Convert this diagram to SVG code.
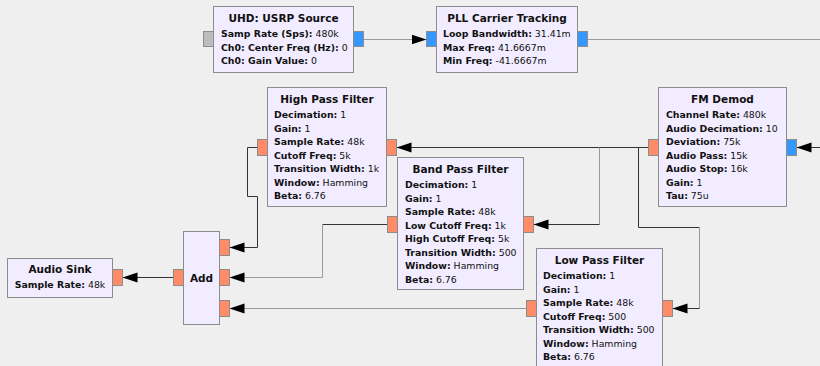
<svg xmlns="http://www.w3.org/2000/svg" width="820" height="366" viewBox="0 0 820 366">
<style>
.blk{fill:#f1ecff;stroke:#8c8c8c;stroke-width:1}
.pf{fill:#ff8c69;stroke:#8c8c8c;stroke-width:1}
.pc{fill:#3399ff;stroke:#8c8c8c;stroke-width:1}
.pm{fill:#bdbdbd;stroke:#8c8c8c;stroke-width:1}
text{font-family:"DejaVu Sans","Liberation Sans",sans-serif;fill:#111}
.t{font-size:10.5px;font-weight:bold;text-anchor:middle}
.p{font-size:9.35px}
.k{font-weight:bold}
.c{text-anchor:middle}
.dk{fill:none;stroke:#333;stroke-width:1}
.lt{fill:none;stroke:#9a9a9a;stroke-width:1}
</style>
<defs>
<marker id="arr" markerUnits="userSpaceOnUse" markerWidth="16" markerHeight="11" refX="15" refY="5.5" orient="auto"><path d="M0,0.5 L15,5.5 L0,10.5 z" fill="#000"/></marker>
</defs>
<rect width="820" height="366" fill="#efefef"/>

<g id="connectors">
<g id="c-usrp-pll"><path class="lt" d="M363.5,39.5 H426.5" marker-end="url(#arr)"/></g>
<g id="c-pll-fm"><path class="lt" d="M587.5,39.5 H820"/><path class="dk" d="M820,147.5 H796.5" marker-end="url(#arr)"/></g>
<g id="c-fm-hpf"><path class="dk" d="M648.5,147.5 H396.5" marker-end="url(#arr)"/></g>
<g id="c-fm-bpf"><path class="lt" d="M599.5,147.5 V224.5"/><path class="dk" d="M599.5,224.5 H533.5" marker-end="url(#arr)"/></g>
<g id="c-fm-lpf"><path class="dk" d="M638.5,147.5 V227.5 H699.5"/><path class="lt" d="M699.5,227.5 V308.5"/><path class="dk" d="M699.5,308.5 H672.5" marker-end="url(#arr)"/></g>
<g id="c-hpf-add"><path class="dk" d="M257.5,147.5 H247.5 V196.5 H257.5 V247.5 H229.5" marker-end="url(#arr)"/></g>
<g id="c-bpf-add"><path class="dk" d="M387.5,224.5 H322.5"/><path class="lt" d="M322.5,224.5 V277.5 H229.5" marker-end="url(#arr)"/></g>
<g id="c-lpf-add"><path class="lt" d="M526.5,308.5 H229.5" marker-end="url(#arr)"/></g>
<g id="c-add-sink"><path class="dk" d="M173.5,277.5 H122.5" marker-end="url(#arr)"/></g>
</g>

<g id="usrp_source">
<rect class="blk" x="213.5" y="6.5" width="140" height="66"/>
<rect class="pm" x="203.5" y="31.5" width="10" height="15"/>
<rect class="pc" x="353.5" y="31.5" width="10" height="15"/>
<text class="t" x="283.5" y="22">UHD: USRP Source</text>
<text class="p" x="221" y="37"><tspan class="k">Samp Rate (Sps):</tspan> 480k</text>
<text class="p" x="221" y="50.5"><tspan class="k">Ch0: Center Freq (Hz):</tspan> 0</text>
<text class="p" x="221" y="64"><tspan class="k">Ch0: Gain Value:</tspan> 0</text>
</g>

<g id="pll_carrier">
<rect class="blk" x="436.5" y="6.5" width="141" height="66"/>
<rect class="pc" x="426.5" y="31.5" width="10" height="15"/>
<rect class="pc" x="577.5" y="31.5" width="10" height="15"/>
<text class="t" x="507" y="22">PLL Carrier Tracking</text>
<text class="p" x="443" y="37"><tspan class="k">Loop Bandwidth:</tspan> 31.41m</text>
<text class="p" x="443" y="50.5"><tspan class="k">Max Freq:</tspan> 41.6667m</text>
<text class="p" x="443" y="64"><tspan class="k">Min Freq:</tspan> -41.6667m</text>
</g>

<g id="fm_demod">
<rect class="blk" x="658.5" y="87.5" width="128" height="119"/>
<rect class="pf" x="648.5" y="139.5" width="10" height="16"/>
<rect class="pc" x="786.5" y="139.5" width="10" height="16"/>
<text class="t" x="722.5" y="103">FM Demod</text>
<text class="p" x="666" y="118"><tspan class="k">Channel Rate:</tspan> 480k</text>
<text class="p" x="666" y="131.5"><tspan class="k">Audio Decimation:</tspan> 10</text>
<text class="p" x="666" y="145"><tspan class="k">Deviation:</tspan> 75k</text>
<text class="p" x="666" y="158.5"><tspan class="k">Audio Pass:</tspan> 15k</text>
<text class="p" x="666" y="172"><tspan class="k">Audio Stop:</tspan> 16k</text>
<text class="p" x="666" y="185.5"><tspan class="k">Gain:</tspan> 1</text>
<text class="p" x="666" y="199"><tspan class="k">Tau:</tspan> 75u</text>
</g>

<g id="high_pass">
<rect class="blk" x="267.5" y="87.5" width="119" height="119"/>
<rect class="pf" x="257.5" y="139.5" width="10" height="16"/>
<rect class="pf" x="386.5" y="139.5" width="10" height="16"/>
<text class="t" x="327" y="103">High Pass Filter</text>
<text class="p" x="274" y="118"><tspan class="k">Decimation:</tspan> 1</text>
<text class="p" x="274" y="131.5"><tspan class="k">Gain:</tspan> 1</text>
<text class="p" x="274" y="145"><tspan class="k">Sample Rate:</tspan> 48k</text>
<text class="p" x="274" y="158.5"><tspan class="k">Cutoff Freq:</tspan> 5k</text>
<text class="p" x="274" y="172"><tspan class="k">Transition Width:</tspan> 1k</text>
<text class="p" x="274" y="185.5"><tspan class="k">Window:</tspan> Hamming</text>
<text class="p" x="274" y="199"><tspan class="k">Beta:</tspan> 6.76</text>
</g>

<g id="band_pass">
<rect class="blk" x="397.5" y="157.5" width="126" height="132"/>
<rect class="pf" x="387.5" y="216.5" width="10" height="16"/>
<rect class="pf" x="523.5" y="216.5" width="10" height="16"/>
<text class="t" x="460.5" y="173">Band Pass Filter</text>
<text class="p" x="405" y="188"><tspan class="k">Decimation:</tspan> 1</text>
<text class="p" x="405" y="201.5"><tspan class="k">Gain:</tspan> 1</text>
<text class="p" x="405" y="215"><tspan class="k">Sample Rate:</tspan> 48k</text>
<text class="p" x="405" y="228.5"><tspan class="k">Low Cutoff Freq:</tspan> 1k</text>
<text class="p" x="405" y="242"><tspan class="k">High Cutoff Freq:</tspan> 5k</text>
<text class="p" x="405" y="255.5"><tspan class="k">Transition Width:</tspan> 500</text>
<text class="p" x="405" y="269"><tspan class="k">Window:</tspan> Hamming</text>
<text class="p" x="405" y="282.5"><tspan class="k">Beta:</tspan> 6.76</text>
</g>

<g id="low_pass">
<rect class="blk" x="536.5" y="248.5" width="126" height="125"/>
<rect class="pf" x="526.5" y="300.5" width="10" height="16"/>
<rect class="pf" x="662.5" y="300.5" width="10" height="16"/>
<text class="t" x="599.5" y="264">Low Pass Filter</text>
<text class="p" x="543" y="279"><tspan class="k">Decimation:</tspan> 1</text>
<text class="p" x="543" y="292.5"><tspan class="k">Gain:</tspan> 1</text>
<text class="p" x="543" y="306"><tspan class="k">Sample Rate:</tspan> 48k</text>
<text class="p" x="543" y="319.5"><tspan class="k">Cutoff Freq:</tspan> 500</text>
<text class="p" x="543" y="333"><tspan class="k">Transition Width:</tspan> 500</text>
<text class="p" x="543" y="346.5"><tspan class="k">Window:</tspan> Hamming</text>
<text class="p" x="543" y="360"><tspan class="k">Beta:</tspan> 6.76</text>
</g>

<g id="add">
<rect class="blk" x="183.5" y="231.5" width="36" height="93"/>
<rect class="pf" x="173.5" y="269.5" width="10" height="16"/>
<rect class="pf" x="219.5" y="239.5" width="10" height="16"/>
<rect class="pf" x="219.5" y="269.5" width="10" height="16"/>
<rect class="pf" x="219.5" y="300.5" width="10" height="16"/>
<text class="t" x="201.5" y="282">Add</text>
</g>

<g id="audio_sink">
<rect class="blk" x="7.5" y="258.5" width="105" height="39"/>
<rect class="pf" x="112.5" y="269.5" width="10" height="16"/>
<text class="t" x="60" y="273">Audio Sink</text>
<text class="p c" x="60" y="288"><tspan class="k">Sample Rate:</tspan> 48k</text>
</g>
</svg>
